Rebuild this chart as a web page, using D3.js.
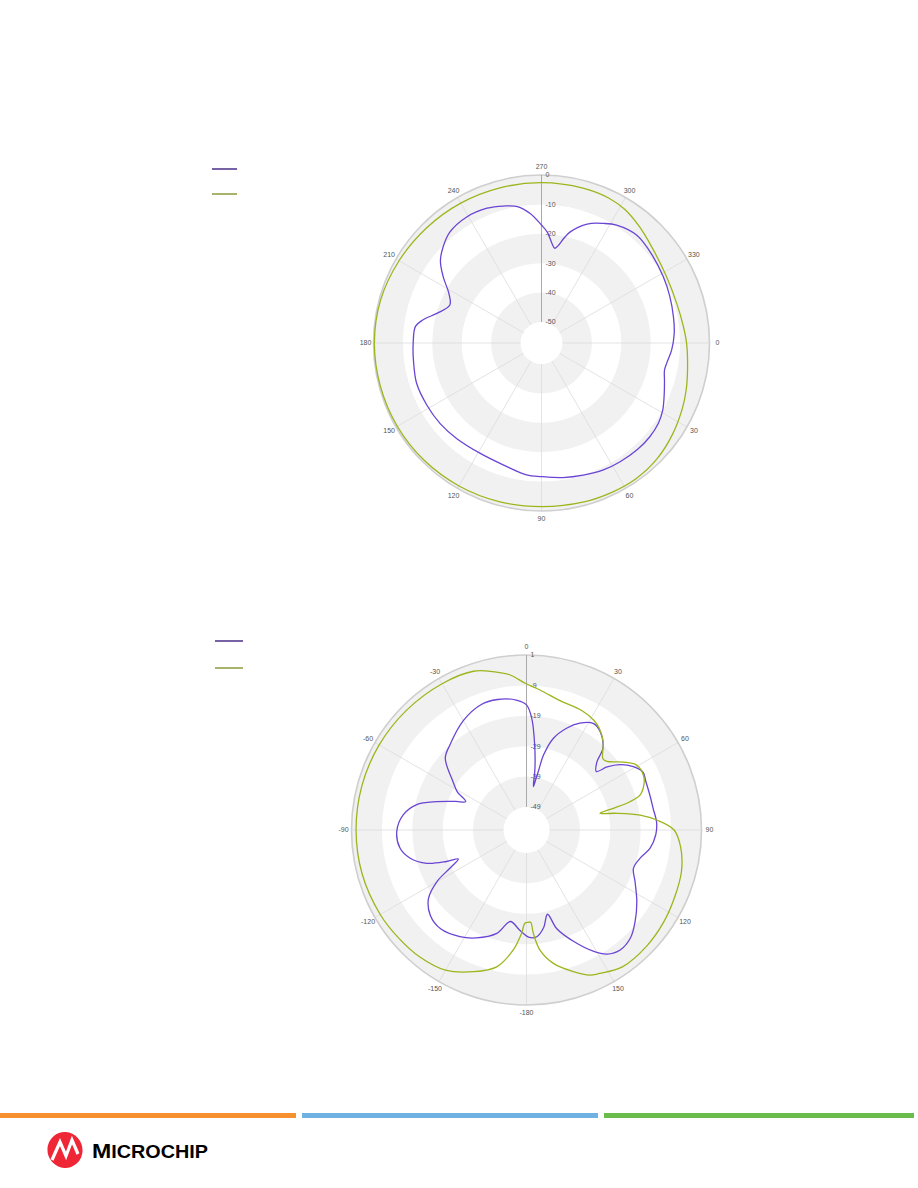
<!DOCTYPE html>
<html>
<head>
<meta charset="utf-8">
<script src="https://cdn.jsdelivr.net/npm/d3@7"></script>
<style>
  html, body { margin: 0; padding: 0; background: #fff; }
  svg { display: block; }
  text { font-family: "Liberation Sans", Arial, sans-serif; }
</style>
</head>
<body>
<svg id="page" width="918" height="1188"></svg>
<script>
// ---------------- DATA ----------------
// Chart 1 (angle axis: 0 at right, clockwise; radial axis -50 .. 0 dB)
const topAngleTicks = [0, 30, 60, 90, 120, 150, 180, 210, 240, 270, 300, 330];
const topAngleLabels = ["0", "30", "60", "90", "120", "150", "180", "210", "240", "270", "300", "330"];
const topRadialTicks = [0, -10, -20, -30, -40, -50];
const topRadialLabels = ["0", "-10", "-20", "-30", "-40", "-50"];
const topPurple = [
  [3, -12.8], [9, -14.0], [12.5, -14.3], [17, -13.4], [22, -12.1], [29, -10.0], [34.5, -8.9],
  [41, -8.4], [48, -8.4], [56.5, -8.7], [64, -9.1], [72.5, -10.0], [81, -10.8], [90, -11.7],
  [96.5, -12.0], [107.5, -13.7], [119, -14.2], [131.5, -13.7], [141.5, -13.1], [151.5, -12.8],
  [162, -12.5], [172.5, -13.2], [180, -13.5], [187.5, -13.9], [191, -16.0], [196, -20.3],
  [202.5, -23.4], [208, -21.5], [214, -16.8], [219, -12.9], [224, -10.5], [230.5, -8.2],
  [239.5, -7.3], [248, -7.7], [254.5, -8.8], [260, -10.0], [265, -12.9], [270, -17.0],
  [273, -19.4], [276, -23.1], [278, -24.6], [280, -23.3], [282, -20.8], [284.5, -18.1],
  [291, -13.8], [297.5, -11.3], [302.5, -9.6], [311.5, -8.2], [322, -9.1], [331.5, -10.0],
  [340, -10.7], [349, -11.4], [356, -11.9]
];
const topGreen = [
  [0, -7.8], [10, -6.7], [18, -5.4], [25, -4.3], [35, -2.8], [45, -1.5], [55, -0.9],
  [65, -1.0], [75, -1.2], [90, -1.5], [105, -1.3], [120, -1.0], [135, -0.7], [150, -0.5],
  [165, -0.4], [180, -0.3], [195, -0.5], [210, -1.2], [225, -1.8], [240, -2.2], [255, -2.5],
  [270, -2.6], [285, -2.6], [295, -2.8], [302, -3.6], [310, -5.4], [320, -7.6], [332, -9.0],
  [344, -9.2], [353, -8.6]
];

// Chart 2 (angle axis: 0 at top, clockwise, -180..180; radial axis -49 .. 1 dB)
const botAngleTicks = [0, 30, 60, 90, 120, 150, 180, -150, -120, -90, -60, -30];
const botAngleLabels = ["0", "30", "60", "90", "120", "150", "-180", "-150", "-120", "-90", "-60", "-30"];
const botRadialTicks = [1, -9, -19, -29, -39, -49];
const botRadialLabels = ["1", "-9", "-19", "-29", "-39", "-49"];
const botPurple = [
  [-176, -23.6], [-170, -26.0], [-164, -21.2], [-155, -17.4], [-148, -15.2], [-139, -13.5],
  [-131.5, -14.3], [-125, -17.2], [-120, -22.5], [-116.5, -28.4], [-113, -32.2],
  [-111.5, -28.3], [-108.5, -22.0], [-103.5, -17.1], [-98, -14.5], [-90.5, -13.9],
  [-83, -15.7], [-77, -19.5], [-72.5, -25.6], [-68, -31.5], [-65, -34.5], [-61, -30.5],
  [-56.5, -27.5], [-48.5, -20.9], [-42, -18.9], [-30, -15.0], [-20, -12.7], [-12.5, -12.6],
  [-4.5, -13.7], [0, -15.4], [2.7, -19.8], [5.5, -28.5], [7.8, -36.1], [9, -42.1],
  [10.2, -40.0], [11.5, -36.5], [12.8, -31.3], [16.3, -25.2], [21.5, -20.6], [26.5, -17.3],
  [32, -15.2], [37, -16.2], [43, -19.7], [46, -24.4], [50, -26.6], [52, -22.9], [55, -19.1],
  [59.3, -15.7], [63.5, -13.8], [68, -14.2], [74.5, -14.4], [80.5, -14.3], [86.5, -13.7],
  [92, -14.0], [98.5, -15.5], [104, -18.1], [109.7, -19.2], [115.5, -17.0], [123, -13.3],
  [130, -9.9], [136, -7.3], [142, -6.5], [147, -7.9], [151, -10.9], [157, -16.7],
  [163, -22.7], [166, -28.0], [170, -24.0], [174.5, -21.3], [178.5, -21.2]
];
const botGreen = [
  [-179, -25.9], [-177.3, -22.6], [-173.7, -16.9], [-167.7, -10.5], [-159.5, -6.8],
  [-150, -3.3], [-140, -2.0], [-130, -1.5], [-120, -1.0], [-105, -0.6], [-90, -0.5],
  [-75, -0.5], [-60, -0.6], [-45, -0.8], [-30, -1.0], [-18.5, -1.5], [-12, -3.3],
  [-6, -5.3], [-0.5, -8.3], [5.5, -10.3], [14.5, -12.6], [25, -13.3], [31.5, -14.2],
  [35.5, -15.4], [41, -18.1], [47, -22.2], [49.5, -21.8], [55, -17.6], [59.5, -14.5],
  [65, -14.1], [69, -15.2], [72.9, -17.5], [74.7, -21.3], [76, -27.1], [77.2, -31.8],
  [79.5, -26.4], [82.5, -18.9], [85.6, -13.6], [90, -8.0], [96.5, -5.5], [105, -3.8],
  [115, -3.0], [124, -2.2], [134, -1.6], [145, -1.6], [153, -3.6], [156.5, -4.5],
  [161.7, -7.5], [168.6, -11.8], [173.6, -16.8], [176.2, -22.5], [177.4, -26.2], [178.9, -26.2]
];

const seriesColors = ["#6a45d4", "#9db51c"];
const legendColors = ["#7862a6", "#a8b46c"];
const footerColors = ["#f7902f", "#6eb1e2", "#6abd4a"];
const footerStarts = [0, 302, 604];
const footerEnds = [296, 598, 914];

// ---------------- DRAW ----------------
const svg = d3.select("#page");

function polarChart(cfg) {
  const g = svg.append("g").attr("transform", `translate(${cfg.cx},${cfg.cy})`);
  const r = d3.scaleLinear().domain(cfg.rDomain).range([cfg.inner, cfg.outer]);
  const a = d3.scaleLinear().domain(cfg.aDomain).range(cfg.aRange);

  // alternating bands
  const bandArc = d3.arc();
  const ticks = cfg.rTicks.slice().sort((x, y) => x - y);
  for (let i = 0; i < ticks.length - 1; i++) {
    if (i % 2 === 0) {
      g.append("path")
        .attr("d", bandArc({ innerRadius: r(ticks[i]), outerRadius: r(ticks[i + 1]), startAngle: 0, endAngle: 2 * Math.PI }))
        .attr("fill", "#f1f1f1");
    }
  }
  // spokes
  cfg.aTicks.forEach(t => {
    const th = a(t);
    g.append("line")
      .attr("x1", r(cfg.rDomain[0]) * Math.sin(th)).attr("y1", -r(cfg.rDomain[0]) * Math.cos(th))
      .attr("x2", r(cfg.rDomain[1]) * Math.sin(th)).attr("y2", -r(cfg.rDomain[1]) * Math.cos(th))
      .attr("stroke", "#dcdcdc").attr("stroke-width", 0.8);
  });
  // outer circle
  g.append("circle").attr("r", cfg.outer).attr("fill", "none")
    .attr("stroke", "#cfcfcf").attr("stroke-width", 1.6);

  // radial axis line
  const th0 = a(cfg.axisAngle);
  g.append("line")
    .attr("x1", r(cfg.rDomain[0]) * Math.sin(th0)).attr("y1", -r(cfg.rDomain[0]) * Math.cos(th0))
    .attr("x2", r(cfg.rDomain[1]) * Math.sin(th0)).attr("y2", -r(cfg.rDomain[1]) * Math.cos(th0))
    .attr("stroke", "#a9a9a9").attr("stroke-width", 1);

  // radial labels
  cfg.rTicks.forEach((t, i) => {
    g.append("text")
      .attr("x", 4).attr("y", -r(t)).attr("dy", "0.35em")
      .attr("font-size", 7).attr("fill", "#555")
      .text(cfg.rLabels[i]);
  });
  // angle labels
  cfg.aTicks.forEach((t, i) => {
    const th = a(t);
    const R = cfg.outer + cfg.labelOffset;
    g.append("text")
      .attr("x", R * Math.sin(th)).attr("y", -R * Math.cos(th)).attr("dy", "0.35em")
      .attr("text-anchor", "middle")
      .attr("font-size", 7).attr("fill", "#555")
      .text(cfg.aLabels[i]);
  });

  // series
  const line = d3.lineRadial()
    .angle(d => a(d[0]))
    .radius(d => r(d[1]))
    .curve(d3.curveCatmullRomClosed.alpha(0.5));
  cfg.series.forEach((s, i) => {
    g.append("path").attr("d", line(s)).attr("fill", "none")
      .attr("stroke", seriesColors[i]).attr("stroke-width", 1.3)
      .attr("stroke-linejoin", "round");
  });

  // legend
  cfg.legendY.forEach((y, i) => {
    svg.append("line")
      .attr("x1", cfg.legendX[0]).attr("x2", cfg.legendX[1])
      .attr("y1", y).attr("y2", y)
      .attr("stroke", legendColors[i]).attr("stroke-width", 2);
  });
}

polarChart({
  cx: 541.5, cy: 343, inner: 21, outer: 168, labelOffset: 8,
  rDomain: [-50, 0], aDomain: [0, 360], aRange: [Math.PI / 2, Math.PI / 2 + 2 * Math.PI],
  rTicks: topRadialTicks, rLabels: topRadialLabels,
  aTicks: topAngleTicks, aLabels: topAngleLabels, axisAngle: 270,
  series: [topPurple, topGreen],
  legendX: [212, 237], legendY: [169, 194]
});

polarChart({
  cx: 526.5, cy: 830, inner: 23, outer: 175, labelOffset: 8,
  rDomain: [-49, 1], aDomain: [-180, 180], aRange: [-Math.PI, Math.PI],
  rTicks: botRadialTicks, rLabels: botRadialLabels,
  aTicks: botAngleTicks, aLabels: botAngleLabels, axisAngle: 0,
  series: [botPurple, botGreen],
  legendX: [215, 243], legendY: [641, 668]
});

// ---------------- FOOTER ----------------
footerColors.forEach((c, i) => {
  svg.append("rect")
    .attr("x", footerStarts[i]).attr("y", 1113)
    .attr("width", footerEnds[i] - footerStarts[i]).attr("height", 5)
    .attr("fill", c);
});

// Microchip logo
const logo = svg.append("g").attr("transform", "translate(65,1150)");
logo.append("ellipse").attr("rx", 17.5).attr("ry", 18).attr("fill", "#ee2636")
  .attr("transform", "rotate(-20)");
logo.append("path")
  .attr("d", "M-13,10 L-5,-8 L1,6 L7,-10 L13,4")
  .attr("fill", "none").attr("stroke", "#fff").attr("stroke-width", 3.2)
  .attr("stroke-linejoin", "miter");
const logoText = svg.append("text").attr("x", 92).attr("y", 1158)
  .attr("font-family", "'Liberation Sans', Arial, sans-serif")
  .attr("font-weight", "bold").attr("fill", "#000")
  .attr("textLength", 116).attr("lengthAdjust", "spacingAndGlyphs");
logoText.append("tspan").attr("font-size", 21).text("M");
logoText.append("tspan").attr("font-size", 18).text("ICROCHIP");
</script>
</body>
</html>
